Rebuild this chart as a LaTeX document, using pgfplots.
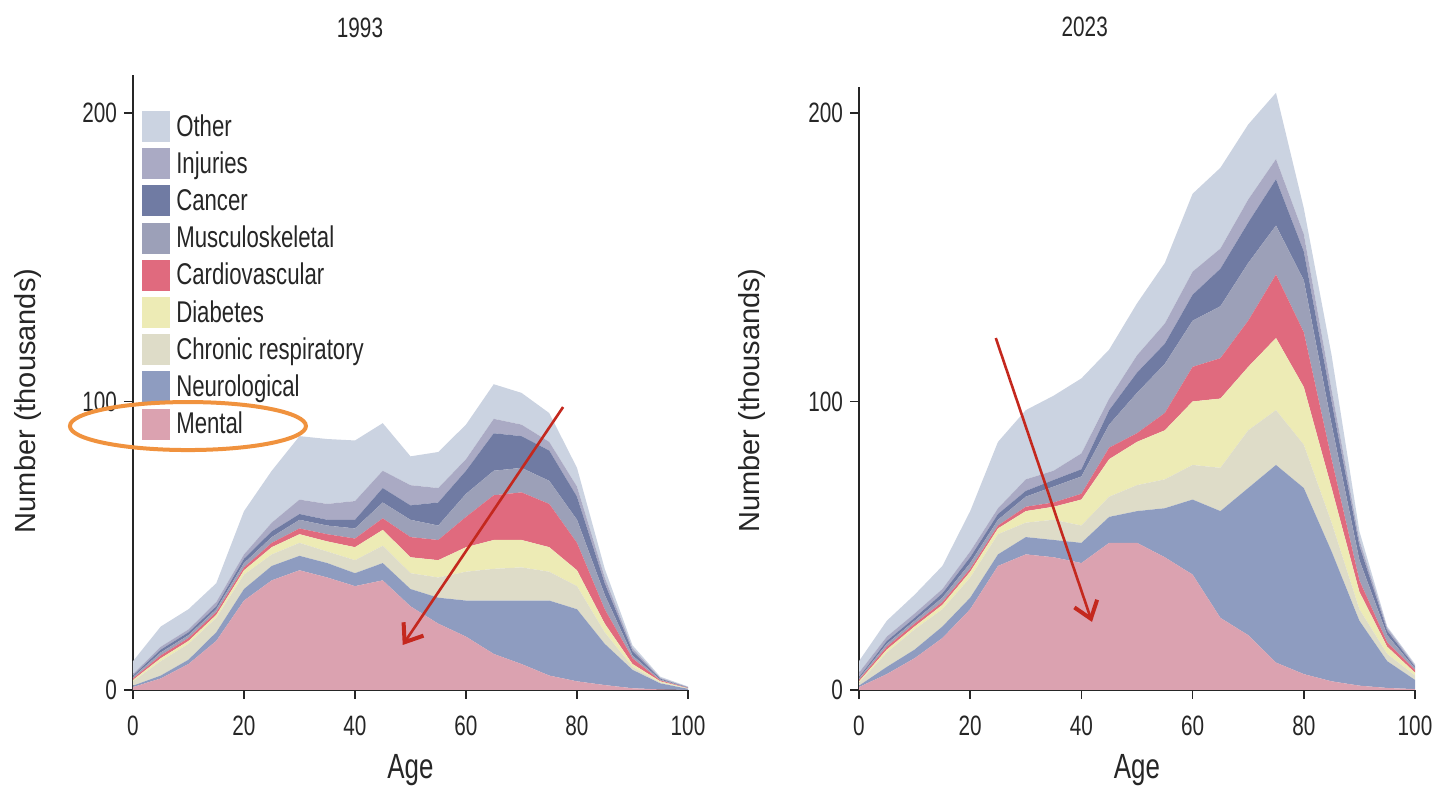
\documentclass[border=0pt]{standalone}
\usepackage{fontspec}
\setmainfont{Liberation Sans}[FakeStretch=0.74]
\newfontfamily\regfont{Liberation Sans}
\usepackage{pgfplots}
\usepackage{pgfplotstable}
\pgfplotsset{compat=1.18}
\usetikzlibrary{arrows.meta}

\definecolor{cOther}{RGB}{203,211,225}
\definecolor{cInj}{RGB}{170,170,196}
\definecolor{cCan}{RGB}{112,123,163}
\definecolor{cMus}{RGB}{156,160,184}
\definecolor{cCar}{RGB}{224,106,126}
\definecolor{cDia}{RGB}{237,235,181}
\definecolor{cChr}{RGB}{222,220,200}
\definecolor{cNeu}{RGB}{142,156,192}
\definecolor{cMen}{RGB}{219,162,176}
\definecolor{cOrange}{RGB}{240,146,62}
\definecolor{cArrow}{RGB}{196,40,30}

% individual (non-cumulative) values, thousands
\pgfplotstableread{
age men neu chr dia car mus can inj oth
0   1    0.5  1.5 0.5 0.5  0.5 0.5  0.5 4.5
5   4    1    5   1   1    1   1    1   7
10  9    1.5  5.5 1   1    1   1    1   7
15  17   3    5   1   1    1   1    1.5 6.5
20  31   4    5   1.5 1    1.5 1.5  1.5 15
25  38   5    4   2.5 1.5  2   2    3   18
30  41.5 5    4.5 3   2    3   2    5   22
35  39   5    4   3.5 2.5  3   2    5.5 22.5
40  36   4.5  4.5 4.5 3    3.5 3    6.5 21
45  38   6    6   5.5 4    5.5 5    6   16.5
50  29   6    5.5 5.5 7    6   5    7   10
55  23   9    7   6   7    5   8    5   12.5
60  18.5 12.5 10  8.5 10.5 8   8    4   12
65  12.5 18.5 11  10  15.5 8.5 13   5   12
70  9    22   11.5 9.5 16.5 8.5 11  4   11
75  5    26   10  8.5 15   8   10.5 3   10
80  3    25   8   5.5 9.5  8   8    3.5 6.5
85  1.7  14.3 4   3   5    5   4    2   3
90  0.6  6.4  1   1   2    1   1.5  1   1
95  0.2  2.1  0.3 0.4 0.3  0.3 0.3  0.3 0.4
100 0    0.4  0.1 0.1 0.1  0.1 0.1  0.1 0.2
}\dataA

\pgfplotstableread{
age men neu chr dia car mus can inj oth
0   1    0.5  1   0.5 0.5 0.5 0.5 1.5 4
5   5.5  2.5  5   1   1   1   1   1.5 5.5
10  11   3    7   1   1   1   1   1.5 6.5
15  18   4    6   1.5 1   1.5 1.5 1.5 8
20  28   4    7   2   1   2   2   2   14
25  43   4    7   2   1   2   2   2   23
30  47   6    5   4   1.5 3.5 2   4   24
35  46   6    7   4.5 1.5 5.5 2.3 3.2 26
40  44   7    6   9   2   6   2.5 5.5 26
45  51   9    7   13  4   8   5   4   17
50  51   11   9   15  3   14  7   6   18
55  46   17   10  17  6   17  7   7   21
60  40   26   12  22  12  16  9   8   27
65  25   37   15  24  14  18  13  7   28
70  19   51   20  22  16  20  14  8   26
75  9.5  68.5 19  25  22  17  16  7   23
80  5.5  64.5 15  20  19  18  10  6   9
85  3    45   10  12  10  12  8   4   12
90  1.5  22.5 4   6   4   7   5   2   3
95  0.7  9.3  2.5 2.5 1.5 2.5 1.5 1   0.5
100 0.3  3.2  1.5 1   1   0.5 0.5 0.5 0.5
}\dataB

\pgfplotsset{
  panel/.style={
    scale only axis,
    xmin=0, xmax=100, ymin=0,
    axis x line=bottom, axis y line=left,
    axis line style={-, line width=0.9pt, black!85},
    xtick={0,20,...,100}, ytick={0,100,200},
    tick align=outside, major tick length=4.5pt,
    tick style={line width=0.8pt, black!85},
    tick label style={font=\fontsize{14}{16}\selectfont, text=black!85},
    xticklabel style={yshift=-5pt},
    /pgf/number format/assume math mode=true,
    xlabel={Age},
    xlabel style={font=\fontsize{17.5}{20}\selectfont, text=black!85, anchor=center},
    ylabel={Number (thousands)},
    ylabel style={font=\regfont\fontsize{14.5}{16}\selectfont, text=black!85, anchor=center, rotate=0},
    stack plots=y,
    clip=false,
    every axis plot/.append style={draw=none},
  },
  ar/.style={draw=none, fill=#1},
}

\begin{document}
\begin{tikzpicture}
\useasboundingbox (-66.5pt,-50pt) rectangle (651.5pt,345pt);

\begin{axis}[panel,
  at={(0pt,0pt)}, anchor=south west,
  width=277.5pt, height=307.5pt, ymax=213.2,
  xlabel style={at={(axis description cs:0.5,-0.13)}},
  ylabel style={at={(axis description cs:-0.19,0.47)}},
  reverse legend,
  legend style={at={(axis description cs:0.016,0.942)}, anchor=north west,
    draw=none, fill=none, inner sep=0pt, row sep=3.1pt, column sep=3pt,
    font=\fontsize{15}{17}\selectfont,
    nodes={inner sep=0pt, text height=12pt, text depth=2.5pt, text=black!85}},
  legend cell align=left,
  legend image code/.code={\fill[#1] (0pt,-7.75pt) rectangle (14pt,7.75pt);},
]
\addplot[ar=cMen] table[x=age,y=men]{\dataA} \closedcycle;
\addplot[ar=cNeu] table[x=age,y=neu]{\dataA} \closedcycle;
\addplot[ar=cChr] table[x=age,y=chr]{\dataA} \closedcycle;
\addplot[ar=cDia] table[x=age,y=dia]{\dataA} \closedcycle;
\addplot[ar=cCar] table[x=age,y=car]{\dataA} \closedcycle;
\addplot[ar=cMus] table[x=age,y=mus]{\dataA} \closedcycle;
\addplot[ar=cCan] table[x=age,y=can]{\dataA} \closedcycle;
\addplot[ar=cInj] table[x=age,y=inj]{\dataA} \closedcycle;
\addplot[ar=cOther] table[x=age,y=oth]{\dataA} \closedcycle;
\legend{Mental,Neurological,Chronic respiratory,Diabetes,Cardiovascular,Musculoskeletal,Cancer,Injuries,Other}
\node[font=\fontsize{14}{16}\selectfont, text=black!85] at (axis description cs:0.409,1.076) {1993};
\coordinate (ell) at (axis cs:9.9,91.5);
\coordinate (a1s) at (axis cs:77.5,98.1);
\coordinate (a1e) at (axis cs:48.6,15.6);
\end{axis}

\begin{axis}[panel,
  at={(363pt,0pt)}, anchor=south west,
  width=278pt, height=301.5pt, ymax=209,
  xlabel style={at={(axis description cs:0.5,-0.133)}},
  ylabel style={at={(axis description cs:-0.192,0.48)}},
]
\addplot[ar=cMen] table[x=age,y=men]{\dataB} \closedcycle;
\addplot[ar=cNeu] table[x=age,y=neu]{\dataB} \closedcycle;
\addplot[ar=cChr] table[x=age,y=chr]{\dataB} \closedcycle;
\addplot[ar=cDia] table[x=age,y=dia]{\dataB} \closedcycle;
\addplot[ar=cCar] table[x=age,y=car]{\dataB} \closedcycle;
\addplot[ar=cMus] table[x=age,y=mus]{\dataB} \closedcycle;
\addplot[ar=cCan] table[x=age,y=can]{\dataB} \closedcycle;
\addplot[ar=cInj] table[x=age,y=inj]{\dataB} \closedcycle;
\addplot[ar=cOther] table[x=age,y=oth]{\dataB} \closedcycle;
\node[font=\fontsize{14}{16}\selectfont, text=black!85] at (axis description cs:0.406,1.1) {2023};
\coordinate (a2s) at (axis cs:24.6,122);
\coordinate (a2e) at (axis cs:41.9,23.6);
\end{axis}

\draw[cOrange, line width=2pt] (ell) ellipse [x radius=59pt, y radius=12pt];
\draw[cArrow, line width=1.3pt, -{Straight Barb[length=8pt, width=12pt, line width=2pt]}] (a1s) -- (a1e);
\draw[cArrow, line width=1.3pt, -{Straight Barb[length=8pt, width=12pt, line width=2pt]}] (a2s) -- (a2e);
\end{tikzpicture}
\end{document}
